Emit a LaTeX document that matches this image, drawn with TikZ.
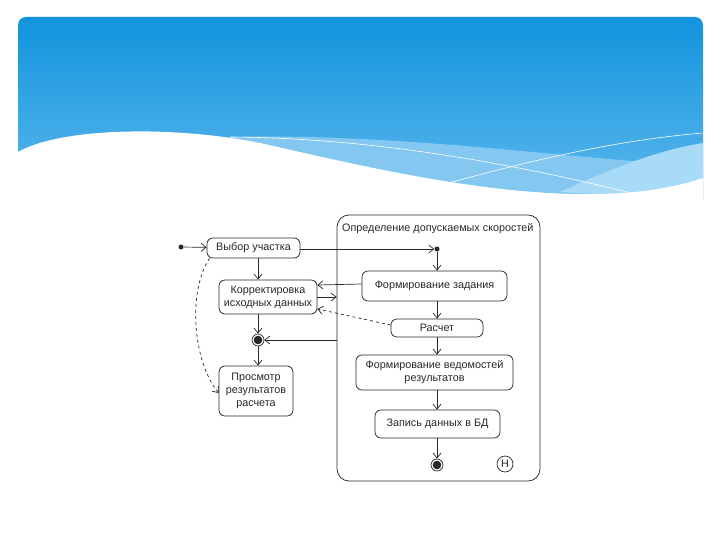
\documentclass[tikz,border=0pt]{standalone}
\usepackage{fontspec}
\setmainfont{Liberation Sans}
\usetikzlibrary{arrows.meta,positioning}
\definecolor{skytop}{RGB}{18,148,220}
\definecolor{skybot}{RGB}{92,184,238}
\definecolor{skyband}{RGB}{132,200,242}
\definecolor{skylight}{RGB}{168,219,247}
\definecolor{ink}{RGB}{40,40,40}
\newcommand{\diagfont}{\fontsize{10.8}{13}\selectfont}

\begin{document}
\begin{tikzpicture}[
        x=1pt, y=-1pt,
        >={Straight Barb[length=5pt,width=8pt]},
        box/.style={
            draw=ink, line width=0.75pt, rounded corners=6pt,
            align=center, inner sep=1pt, font=\diagfont, text=ink
        },
        flow/.style={->, draw=ink, line width=0.7pt},
        dot/.style={circle, fill=ink, inner sep=0pt, minimum size=5pt},
        endpt/.style={
            circle, draw=ink, line width=0.7pt, inner sep=0pt, minimum size=12pt,
            path picture={\fill[ink] (path picture bounding box.center) circle (4.3pt);}
        }
    ]

    \useasboundingbox (0,0) rectangle (720,540);
    \fill[white] (0,0) rectangle (720,540);

    % header
    \begin{scope}
        \clip[rounded corners=8pt] (18,17) rectangle (703,260);
        \shade[top color=skytop, bottom color=skybot] (18,17) rectangle (703,200);
        \fill[skyband] (230,137) .. controls (400,133) and (560,158) .. (703,166) -- (703,200) -- (230,200) -- cycle;
        \fill[skylight] (560,192) .. controls (620,165) and (660,150) .. (703,143) -- (703,200) -- cycle;
        \fill[white] (18,152) .. controls (60,128) and (170,125) .. (260,143) .. controls (380,170) and (580,220) .. (703,178) -- (703,206) -- (18,206) -- cycle;
        \draw[white, line width=0.6pt] (230,137) .. controls (400,138) and (560,175) .. (643,196);
        \draw[white, line width=0.6pt] (445,184) .. controls (540,158) and (620,140) .. (703,133);
    \end{scope}

    % composite state
    \node[box, minimum width=203pt, minimum height=266pt, rounded corners=12pt] (group) at (438.5,348) {};
    \node[font=\diagfont, text=ink, anchor=west, inner sep=0pt] (grouptitle) at (342,229) {Определение допускаемых скоростей};

    \node[dot] (start) at (181,247) {};
    \node[box, minimum width=93pt, minimum height=20pt] (choice) at (253.5,248) {Выбор участка};
    \node[box, minimum width=98pt, minimum height=34pt] (edit) at (268,297) {Корректировка\\исходных данных};
    \node[endpt] (merge) at (258,340) {};
    \node[box, minimum width=74pt, minimum height=50pt] (view) at (256,391) {Просмотр\\результатов\\расчета};

    \node[dot] (entry) at (437,249) {};
    \node[box, minimum width=145pt, minimum height=30pt] (task) at (434.5,286) {Формирование задания};
    \node[box, minimum width=92pt, minimum height=18pt] (calc) at (437,328) {Расчет};
    \node[box, minimum width=157pt, minimum height=35pt] (report) at (434.5,372.5) {Формирование ведомостей\\результатов};
    \node[box, minimum width=125pt, minimum height=28pt] (store) at (437.5,424) {Запись данных в БД};
    \node[endpt] (finish) at (437,465) {};
    \node[circle, draw=ink, line width=0.7pt, minimum size=16pt, inner sep=0pt, font=\diagfont, text=ink] (hist) at (505,464) {H};

    \draw[flow] (start) -- (choice);
    \draw[flow] (choice.east |- entry) -- (entry);
    \draw[flow] (entry) -- (entry |- task.north);
    \draw[flow] (entry |- task.south) -- (entry |- calc.north);
    \draw[flow] (entry |- calc.south) -- (entry |- report.north);
    \draw[flow] (entry |- report.south) -- (entry |- store.north);
    \draw[flow] (entry |- store.south) -- (finish);

    \draw[flow] (merge |- choice.south) -- (merge |- edit.north);
    \draw[flow] ([yshift=2pt]task.west) -- ([yshift=12pt]edit.east);
    \draw[flow] (edit.east) -- (edit.east -| group.west);
    \draw[flow, dashed] ([yshift=3pt]calc.west) -- ([yshift=-12pt]edit.east);
    \draw[flow] (merge |- edit.south) -- (merge);
    \draw[flow] (group.west |- merge) -- (merge);
    \draw[flow] (merge) -- (merge |- view.north);
    \draw[flow, dashed] ([xshift=3pt]choice.south west) .. controls (188,290) and (192,360) .. ([yshift=-2pt]view.west);

\end{tikzpicture}
\end{document}
